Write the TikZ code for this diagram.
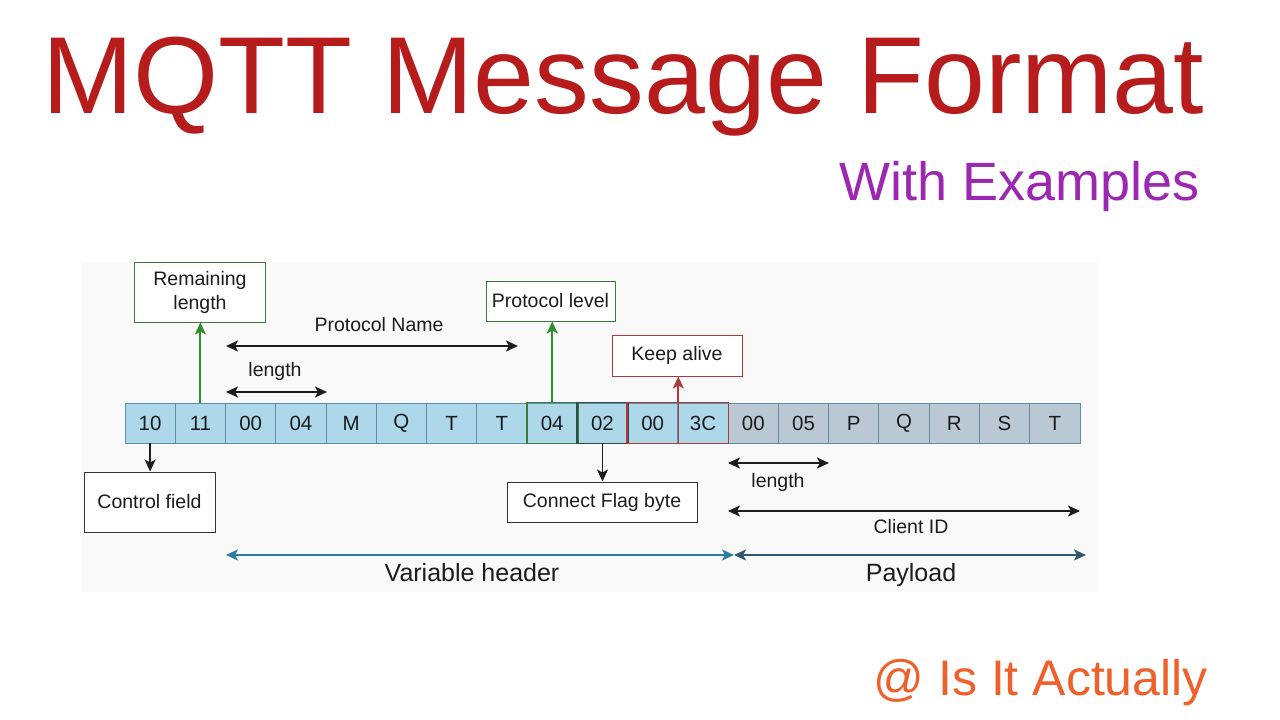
\documentclass[tikz,border=0pt]{standalone}
\usepackage{fontspec}
\setmainfont{Liberation Sans}
\usetikzlibrary{arrows.meta}
\definecolor{titlered}{HTML}{B71C1C}
\definecolor{subpurple}{HTML}{9C27B0}
\definecolor{credorange}{HTML}{F0602A}
\definecolor{cellblue}{HTML}{ADD8EA}
\definecolor{cellgrey}{HTML}{BAC8D4}
\definecolor{cellline}{HTML}{5F8FA6}
\definecolor{boxgreen}{HTML}{3A7A3A}
\definecolor{arrgreen}{HTML}{2E8B2E}
\definecolor{boxred}{HTML}{B03A3A}
\definecolor{darkslate}{HTML}{2F4B4B}
\definecolor{varblue}{HTML}{2E7CA3}
\definecolor{payblue}{HTML}{2F5870}
\definecolor{bgpanel}{HTML}{F9F9F9}
\definecolor{ink}{HTML}{1C1C1C}
\tikzset{
  cell/.style={draw=cellline, line width=0.9pt, minimum width=50.26pt, minimum height=40pt, inner sep=0pt, font=\fontsize{20.5}{22}\selectfont, text=ink},
  bluecell/.style={cell, fill=cellblue},
  greycell/.style={cell, fill=cellgrey},
  lblbox/.style={draw, line width=1pt, fill=white, inner sep=0pt, align=center, font=\fontsize{19.5}{24}\selectfont, text=ink},
  lbl/.style={font=\fontsize{19.5}{22}\selectfont, text=ink, inner sep=0pt},
  biglbl/.style={font=\fontsize{25}{28}\selectfont, text=ink, inner sep=0pt},
  dimarr/.style={{Stealth[length=12pt,width=11pt,inset=3pt]}-{Stealth[length=12pt,width=11pt,inset=3pt]}, line width=1.8pt, ink},
  ptr/.style={-{Stealth[length=12pt,width=11pt,inset=3pt]}, line width=1.8pt}
}
\begin{document}
\begin{tikzpicture}[x=1pt,y=-1pt]
\useasboundingbox (0,0) rectangle (1280,720);
\fill[white] (0,0) rectangle (1280,720);
\fill[bgpanel] (82,262) rectangle (1097,592);
% titles
\node[anchor=base west, inner sep=0pt, text=titlered, font=\fontsize{109.5}{120}\selectfont] (title) at (42,113) {MQTT Message Format};
\node[anchor=base east, inner sep=0pt, text=subpurple, font=\fontsize{54}{60}\selectfont] (sub) at (1200,200) {With Examples};
\node[anchor=base east, inner sep=0pt, text=credorange, font=\fontsize{50}{60}\selectfont] (cred) at (1208,695) {@ Is It Actually};
% cells
\foreach \t [count=\i] in {10,11,00,04,M,Q,T,T,04,02,00,3C}
  \node[bluecell] (c\i) at ({125+50.26*(\i-0.5)},423) {\t};
\foreach \t [count=\i from 13] in {00,05,P,Q,R,S,T}
  \node[greycell] (c\i) at ({125+50.26*(\i-0.5)},423) {\t};
% highlighted borders
\draw[boxgreen, line width=1.8pt] (c9.north west) rectangle (c9.south east);
\draw[darkslate, line width=1.8pt] (c10.north west) rectangle (c10.south east);
\draw[boxred, line width=1.5pt] (c11.north west) rectangle (c12.south east);
\draw[boxred, line width=1.2pt] (c11.north east) -- (c11.south east);
% label boxes
\node[lblbox, draw=boxgreen, minimum width=131pt, minimum height=60pt] (rem) at (200,292) {Remaining\\length};
\node[lblbox, draw=boxgreen, minimum width=129pt, minimum height=40pt] (plev) at (550.5,301) {Protocol level};
\node[lblbox, draw=boxred, minimum width=130pt, minimum height=41pt] (keep) at (677,355.5) {Keep alive};
\node[lblbox, draw=black!80, minimum width=131pt, minimum height=60pt] (ctrl) at (149.5,502) {Control field};
\node[lblbox, draw=black!80, minimum width=190pt, minimum height=40pt] (cflag) at (602,502) {Connect Flag byte};
% pointer arrows
\draw[ptr, arrgreen] (c2.north) -- (c2.north |- rem.south);
\draw[ptr, arrgreen] (c9.north) -- (c9.north |- plev.south);
\draw[ptr, boxred] (c11.north east) -- (c11.north east |- keep.south);
\draw[ptr, ink] (c1.south) -- (c1.south |- ctrl.north);
\draw[ptr, ink] (c10.south) -- (c10.south |- cflag.north);
% dimension arrows
\coordinate (pnA) at (226,346); \coordinate (pnB) at (518,346);
\draw[dimarr] (pnA) -- (pnB);
\node[lbl] (pname) at (379,325) {Protocol Name};
\coordinate (l1A) at (226,392); \coordinate (l1B) at (327,392);
\draw[dimarr] (l1A) -- (l1B);
\node[lbl] (len1) at (275,371) {length};
\coordinate (l2A) at (728,463); \coordinate (l2B) at (829,463);
\draw[dimarr] (l2A) -- (l2B);
\node[lbl] (len2) at (778,482) {length};
\coordinate (ciA) at (728,511); \coordinate (ciB) at (1080,511);
\draw[dimarr] (ciA) -- (ciB);
\node[lbl] (cid) at (911,527) {Client ID};
\coordinate (vhA) at (226,555); \coordinate (vhB) at (734,555);
\draw[dimarr, varblue] (vhA) -- (vhB);
\node[biglbl] (vh) at (472,573) {Variable header};
\coordinate (plA) at (734,555); \coordinate (plB) at (1086,555);
\draw[dimarr, payblue] (plA) -- (plB);
\node[biglbl] (pl) at (911,575) {Payload};
\end{tikzpicture}
\end{document}
